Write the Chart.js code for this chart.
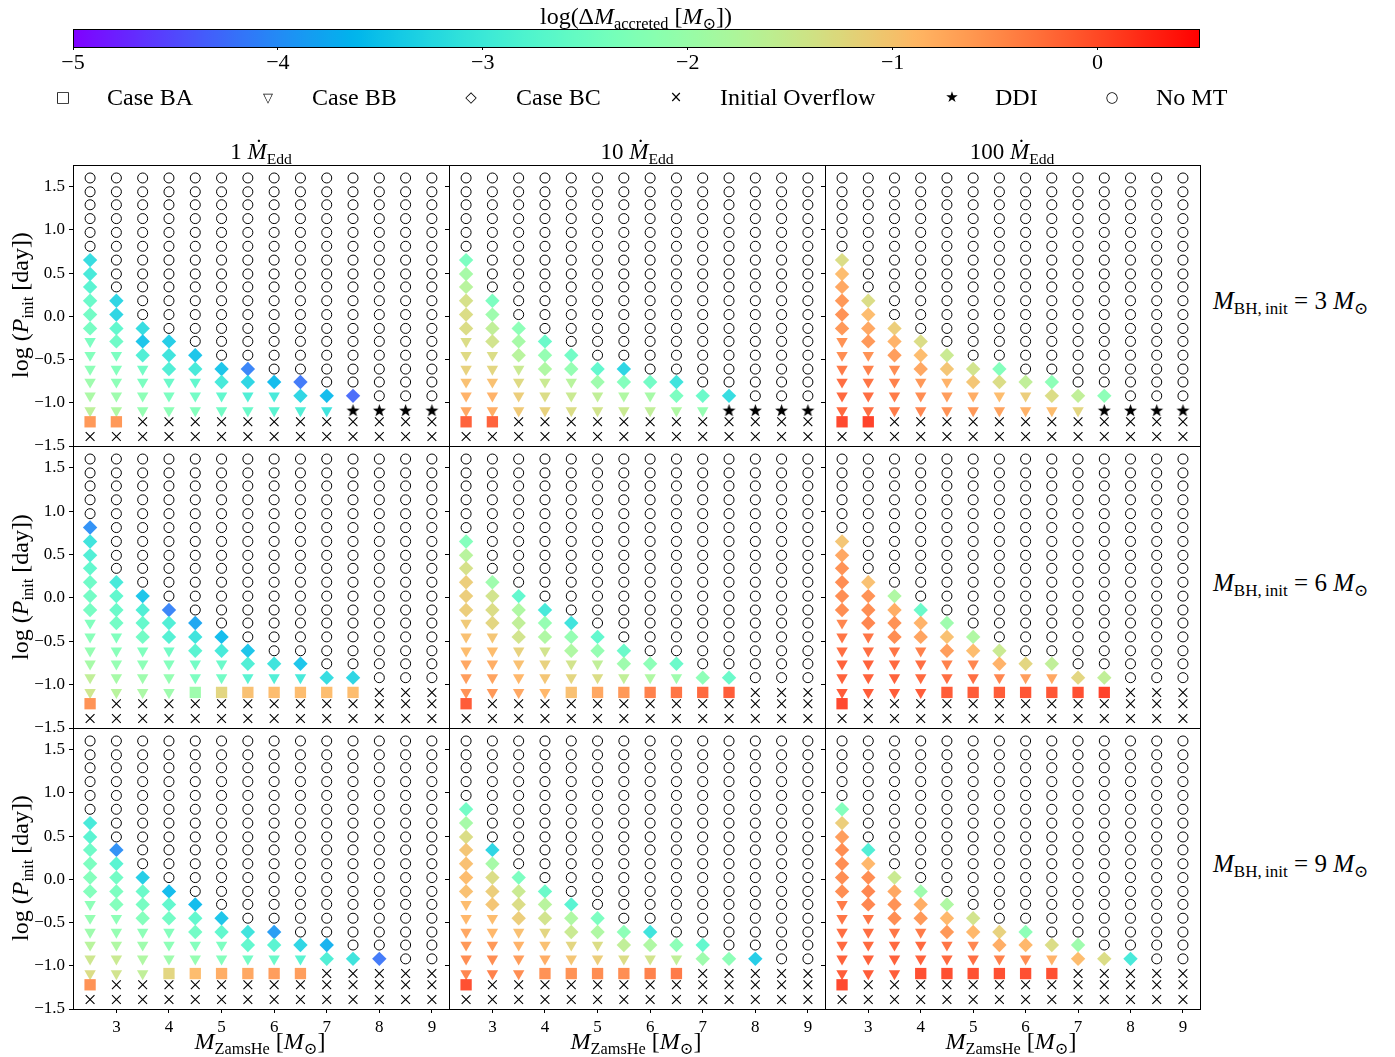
<!DOCTYPE html>
<html><head><meta charset="utf-8"><title>Accreted mass grid</title>
<script src="https://cdn.jsdelivr.net/npm/chart.js@4.4.1/dist/chart.umd.min.js"></script>
<style>
html,body{margin:0;padding:0;background:#fff}
#root{position:relative;width:1395px;height:1057px;overflow:hidden;font-family:'Liberation Serif','DejaVu Serif',serif;color:#000}
.lbl{position:absolute;white-space:nowrap;line-height:1;transform:translate(-50%,-50%)}
.lft{position:absolute;white-space:nowrap;line-height:1;transform:translate(0,-50%)}
.sub{font-size:68%;position:relative;top:0.3em}
.sym{position:absolute;transform:translate(-50%,-50%);font-family:'DejaVu Sans',sans-serif;line-height:1}
.rot{transform:translate(-50%,-50%) rotate(-90deg)}
canvas{position:absolute;display:block}
</style></head>
<body><div id="root"></div>
<script>
// ---------------- DATA ----------------
const massGrid = [2.5,3,3.5,4,4.5,5,5.5,6,6.5,7,7.5,8,8.5,9];
const logPGrid = [1.60,1.44,1.29,1.13,0.97,0.81,0.65,0.49,0.34,0.18,0.02,-0.14,-0.29,-0.45,-0.61,-0.76,-0.92,-1.09,-1.22,-1.39];
const xTickValues = [3,4,5,6,7,8,9];
const yTickValues = [-1.5,-1,-0.5,0,0.5,1,1.5];
const cbarTickValues = [-5,-4,-3,-2,-1,0];
const rateLabels = ['1','10','100'];
const bhMasses = [3,6,9];
const legendLabels = ['Case BA','Case BB','Case BC','Initial Overflow','DDI','No MT'];
const legendGlyphs = ['\u25A1','\u25BD','\u25C7','\u00D7','\u2605','\u25CB'];
// type codes per column (top row first): o=No MT, d=Case BC, t=Case BB, s=Case BA, x=Initial Overflow, k=DDI
const typesBH3_1   = ["o6d6t6s1x1","o9d4t5s1x1","o11d3t4x2","o12d3t3x2","o13d2t3x2","o14d2t2x2","o14d2t2x2","o15d1t2x2","o15d2t1x2","o16d1t1x2","o16d1k1x2","o17k1x2","o17k1x2","o17k1x2"];
const typesBH3_10  = ["o6d6t6s1x1","o9d4t5s1x1","o11d3t4x2","o12d3t3x2","o13d2t3x2","o14d2t2x2","o14d2t2x2","o15d1t2x2","o15d2t1x2","o16d1t1x2","o16d1k1x2","o17k1x2","o17k1x2","o17k1x2"];
const typesBH3_100 = ["o6d6t6s1x1","o9d4t5s1x1","o11d3t4x2","o12d3t3x2","o13d2t3x2","o14d2t2x2","o14d2t2x2","o15d1t2x2","o15d2t1x2","o16d1t1x2","o16d1k1x2","o17k1x2","o17k1x2","o17k1x2"];
const typesBH6_1   = ["o5d7t6s1x1","o9d4t5x2","o10d4t4x2","o11d3t4x2","o12d3t2s1x2","o13d2t2s1x2","o14d2t1s1x2","o15d1t1s1x2","o15d1t1s1x2","o16d1s1x2","o16d1s1x2","o17x3","o17x3","o17x3"];
const typesBH6_10  = ["o6d6t6s1x1","o9d4t5x2","o10d4t4x2","o11d3t4x2","o12d3t2s1x2","o13d2t2s1x2","o14d2t1s1x2","o15d1t1s1x2","o15d1t1s1x2","o16d1s1x2","o16d1s1x2","o17x3","o17x3","o17x3"];
const typesBH6_100 = ["o6d6t6s1x1","o9d4t5x2","o10d4t4x2","o11d3t4x2","o12d3t2s1x2","o13d2t2s1x2","o14d2t1s1x2","o15d1t1s1x2","o15d1t1s1x2","o16d1s1x2","o16d1s1x2","o17x3","o17x3","o17x3"];
const typesBH9_1   = ["o6d6t6s1x1","o8d5t5x2","o10d4t4x2","o11d3t3s1x2","o12d3t2s1x2","o13d2t2s1x2","o14d2t1s1x2","o14d2t1s1x2","o15d1t1s1x2","o15d2x3","o16d1x3","o16d1x3","o17x3","o17x3"];
const typesBH9_10  = ["o5d7t6s1x1","o8d5t5x2","o10d4t4x2","o11d3t3s1x2","o12d3t2s1x2","o13d2t2s1x2","o14d2t1s1x2","o14d2t1s1x2","o15d1t1s1x2","o15d2x3","o16d1x3","o16d1x3","o17x3","o17x3"];
const typesBH9_100 = ["o5d7t6s1x1","o8d5t5x2","o10d4t4x2","o11d3t3s1x2","o12d3t2s1x2","o13d2t2s1x2","o14d2t1s1x2","o14d2t1s1x2","o15d1t1s1x2","o15d2x3","o16d1x3","o16d1x3","o17x3","o17x3"];
// log(dM_accreted) for coloured markers, top to bottom, per column
const valsBH3_1 = [
 [-3.2,-3.0,-2.8,-2.6,-2.5,-2.45,-2.4,-2.3,-2.2,-2.0,-1.85,-1.65,-0.55],
 [-3.3,-3.3,-2.7,-2.55,-2.4,-2.3,-2.2,-2.0,-1.8,-0.55],
 [-3.2,-3.5,-2.9,-2.5,-2.4,-2.2,-2.1],
 [-3.4,-3.1,-2.9,-2.6,-2.4,-2.2],
 [-3.5,-3.0,-2.7,-2.5,-2.3],
 [-3.5,-3.0,-2.7,-2.5],
 [-4.1,-3.3,-2.9,-2.6],
 [-3.6,-3.0,-2.8],
 [-4.2,-3.3,-2.9],
 [-3.6,-3.1],
 [-4.3],[],[],[]];
const valsBH3_10 = [
 [-2.4,-1.9,-1.7,-1.35,-1.3,-1.3,-1.3,-1.25,-1.15,-0.95,-0.8,-0.7,-0.1],
 [-2.4,-2.0,-1.6,-1.4,-1.3,-1.2,-0.95,-0.8,-0.75,-0.1],
 [-2.2,-1.9,-1.7,-1.5,-1.25,-1.1,-1.05],
 [-2.6,-2.1,-1.8,-1.5,-1.3,-1.15],
 [-2.5,-2.1,-1.7,-1.5,-1.3],
 [-2.7,-2.0,-1.6,-1.4],
 [-3.3,-2.3,-1.8,-1.5],
 [-2.5,-1.9,-1.6],
 [-3.1,-2.4,-1.8],
 [-2.6,-2.1],
 [-3.2],[],[],[]];
const valsBH3_100 = [
 [-1.3,-0.9,-0.7,-0.55,-0.5,-0.55,-0.5,-0.45,-0.3,-0.2,-0.15,-0.15,0.1],
 [-1.3,-0.9,-0.7,-0.55,-0.5,-0.35,-0.25,-0.2,-0.2,0.15],
 [-1.1,-0.8,-0.6,-0.45,-0.35,-0.3,-0.3],
 [-1.3,-0.9,-0.7,-0.55,-0.45,-0.4],
 [-1.5,-1.0,-0.8,-0.6,-0.5],
 [-1.4,-1.0,-0.75,-0.55],
 [-2.3,-1.3,-0.9,-0.65],
 [-1.6,-1.1,-0.8],
 [-2.2,-1.3,-0.9],
 [-1.6,-1.2],
 [-2.2],[],[],[]];
const valsBH6_1 = [
 [-4.0,-3.1,-2.9,-2.7,-2.55,-2.5,-2.45,-2.35,-2.25,-2.1,-1.9,-1.6,-1.45,-0.5],
 [-3.0,-2.7,-2.6,-2.5,-2.35,-2.25,-2.1,-1.9,-1.7],
 [-3.5,-2.9,-2.65,-2.5,-2.35,-2.2,-2.0,-1.85],
 [-4.1,-2.9,-2.85,-2.5,-2.3,-2.1,-2.0],
 [-3.8,-3.1,-2.8,-2.5,-2.4,-2.0],
 [-3.6,-3.0,-2.6,-2.5,-1.2],
 [-3.5,-2.9,-2.8,-0.95],
 [-3.1,-2.9,-0.9],
 [-3.5,-3.0,-0.9],
 [-3.2,-0.9],
 [-3.3,-0.9],[],[],[]];
const valsBH6_10 = [
 [-2.3,-1.7,-1.35,-1.1,-1.1,-1.1,-1.05,-0.95,-0.9,-0.7,-0.6,-0.5,-0.05],
 [-2.0,-1.4,-1.3,-1.2,-1.0,-0.9,-0.75,-0.65,-0.55],
 [-2.7,-1.8,-1.6,-1.4,-1.15,-0.95,-0.85,-0.7],
 [-3.0,-2.1,-1.8,-1.4,-1.15,-1.0,-0.85],
 [-3.1,-2.1,-1.8,-1.4,-1.2,-0.95],
 [-2.7,-2.1,-1.6,-1.3,-0.7],
 [-2.6,-2.0,-1.6,-0.55],
 [-2.2,-1.8,-0.35],
 [-2.6,-2.0,-0.25],
 [-2.2,-0.15],
 [-2.6,-0.05],[],[],[]];
const valsBH6_100 = [
 [-1.0,-0.7,-0.5,-0.45,-0.45,-0.45,-0.4,-0.25,-0.2,-0.1,-0.1,-0.05,0.1],
 [-0.95,-0.5,-0.45,-0.4,-0.25,-0.2,-0.1,-0.1,-0.05],
 [-1.8,-0.75,-0.5,-0.45,-0.25,-0.15,-0.1,-0.05],
 [-2.6,-0.8,-0.65,-0.35,-0.2,-0.15,-0.05],
 [-2.0,-0.95,-0.6,-0.35,-0.2,-0.05],
 [-1.8,-0.9,-0.4,-0.2,-0.05],
 [-1.5,-0.8,-0.4,-0.05],
 [-1.2,-0.6,0.0],
 [-1.6,-0.7,0.0],
 [-1.2,0.05],
 [-1.6,0.15],[],[],[]];
const valsBH9_1 = [
 [-3.0,-2.8,-2.55,-2.4,-2.3,-2.3,-2.2,-2.1,-2.0,-1.7,-1.45,-1.3,-0.5],
 [-4.0,-2.8,-2.5,-2.4,-2.3,-2.2,-2.1,-1.8,-1.5,-1.4],
 [-3.4,-2.6,-2.45,-2.3,-2.2,-2.0,-1.8,-1.6],
 [-3.6,-2.7,-2.5,-2.3,-2.2,-2.0,-1.2],
 [-3.6,-2.7,-2.5,-2.3,-2.1,-0.9],
 [-3.5,-2.7,-2.4,-2.3,-0.75],
 [-3.1,-2.7,-2.5,-0.7],
 [-3.9,-2.8,-2.6,-0.6],
 [-3.3,-2.8,-0.6],
 [-3.7,-2.9],
 [-3.1],
 [-4.2],[],[]];
const valsBH9_10 = [
 [-2.5,-1.9,-1.3,-1.0,-0.95,-0.9,-0.95,-0.9,-0.85,-0.7,-0.55,-0.45,-0.4,0.05],
 [-3.3,-1.9,-1.3,-1.1,-1.0,-0.9,-0.85,-0.55,-0.45,-0.35],
 [-2.4,-1.5,-1.3,-1.1,-0.95,-0.8,-0.6,-0.45],
 [-2.6,-1.7,-1.4,-1.2,-0.95,-0.75,-0.5],
 [-2.8,-1.8,-1.5,-1.2,-1.0,-0.5],
 [-2.4,-1.8,-1.3,-1.1,-0.45],
 [-2.2,-1.6,-1.3,-0.45],
 [-3.1,-1.8,-1.4,-0.35],
 [-2.2,-1.6,-0.3],
 [-2.7,-2.0],
 [-2.2],
 [-3.4],[],[]];
const valsBH9_100 = [
 [-2.3,-1.1,-0.6,-0.45,-0.45,-0.45,-0.45,-0.3,-0.25,-0.2,-0.15,-0.1,-0.05,0.1],
 [-2.9,-0.85,-0.45,-0.4,-0.4,-0.25,-0.2,-0.15,-0.1,-0.05],
 [-1.5,-0.7,-0.5,-0.45,-0.25,-0.15,-0.1,-0.05],
 [-2.0,-0.75,-0.55,-0.3,-0.15,-0.1,0.05],
 [-1.8,-0.85,-0.55,-0.25,-0.15,0.05],
 [-1.4,-0.85,-0.4,-0.2,0.05],
 [-1.15,-0.75,-0.35,0.05],
 [-2.2,-0.85,-0.45,0.05],
 [-1.3,-0.8,0.05],
 [-2.0,-0.9],
 [-1.3],
 [-3.0],[],[]];

// ---------------- RENDERING ----------------
const FONT = "'Liberation Serif','DejaVu Serif',serif";
Chart.defaults.font.family = FONT;
Chart.defaults.color = '#000';
const root = document.getElementById('root');

const panelData = [
  [[typesBH3_1,valsBH3_1],[typesBH3_10,valsBH3_10],[typesBH3_100,valsBH3_100]],
  [[typesBH6_1,valsBH6_1],[typesBH6_10,valsBH6_10],[typesBH6_100,valsBH6_100]],
  [[typesBH9_1,valsBH9_1],[typesBH9_10,valsBH9_10],[typesBH9_100,valsBH9_100]]
];
const VMIN=-5, VMAX=0.5;
function rainbow(v, a){
  let x=(v-VMIN)/(VMAX-VMIN); x=Math.max(0,Math.min(1,x));
  const r=Math.min(1,Math.abs(2*x-0.5)), g=Math.sin(Math.PI*x), b=Math.cos(Math.PI*x/2);
  return 'rgba('+Math.round(r*255)+','+Math.round(g*255)+','+Math.round(b*255)+','+a+')';
}
function expand(code){ const out=[]; code.replace(/([a-z])(\d+)/g,(m,c,n)=>{for(let i=0;i<+n;i++)out.push(c);return m;}); return out; }
const fmtMinus = (s)=> s.replace('-','\u2212');

// star marker image
const starImg = document.createElement('canvas');
starImg.width=15; starImg.height=15;
(function(){const c=starImg.getContext('2d');c.fillStyle='#000';c.beginPath();
 for(let i=0;i<10;i++){const R=i%2?2.7:6.8;const a=-Math.PI/2+i*Math.PI/5;const px=7.5+R*Math.cos(a),py=7.8+R*Math.sin(a);i?c.lineTo(px,py):c.moveTo(px,py);}
 c.closePath();c.fill();})();

const markerStyles = {
  o:{pointStyle:'circle',pointRadius:5,pointBorderWidth:1,pointBorderColor:'#000',pointBackgroundColor:'rgba(0,0,0,0)'},
  x:{pointStyle:'crossRot',pointRadius:6.2,pointBorderWidth:1.1,pointBorderColor:'#000',pointBackgroundColor:'rgba(0,0,0,0)'},
  k:{pointStyle:starImg,pointRadius:7},
  d:{pointStyle:'rectRot',pointRadius:7.2,pointBorderWidth:0},
  t:{pointStyle:'triangle',pointRadius:6.6,pointRotation:180,pointBorderWidth:0},
  s:{pointStyle:'rect',pointRadius:8,pointBorderWidth:0}
};

const framePlugin = {id:'frame', afterDatasetsDraw(chart){
  const {ctx, chartArea:a}=chart; ctx.save(); ctx.strokeStyle='#000'; ctx.lineWidth=1;
  ctx.strokeRect(Math.round(a.left)+0.5, Math.round(a.top)+0.5, Math.round(a.right-a.left), Math.round(a.bottom-a.top));
  ctx.restore(); }};

const panelLeft=[73,449,825], panelWidth=[376,376,375];
const panelTop=[165,446,728], panelHeight=[281,282,281];
const PADL=62, PADT=26, PADR=12, PADB=34;

function makeCanvas(left, top, w, h){
  const cv=document.createElement('canvas'); cv.width=w; cv.height=h;
  cv.style.left=left+'px'; cv.style.top=top+'px'; cv.style.width=w+'px'; cv.style.height=h+'px';
  root.appendChild(cv); return cv;
}

for(let r=0;r<3;r++){
  for(let c=0;c<3;c++){
    const [types, vals] = panelData[r][c];
    const groups = {o:[],x:[],k:[],d:[],t:[],s:[]};
    for(let j=0;j<massGrid.length;j++){
      const col=expand(types[j]); let vi=0;
      for(let i=0;i<col.length;i++){
        const t=col[i]; const p={x:massGrid[j], y:logPGrid[i]};
        if(t==='d'||t==='t'||t==='s'){ p.v = vals[j][vi++]; }
        groups[t].push(p);
      }
    }
    const datasets=[];
    for(const t of ['o','x','k','s','t','d']){
      const ds=Object.assign({data:groups[t], showLine:false}, markerStyles[t]);
      if(t==='d'||t==='t'||t==='s'){ ds.pointBackgroundColor = groups[t].map(p=>rainbow(p.v,0.92)); }
      datasets.push(ds);
    }
    const W=panelWidth[c]+PADL+PADR, H=panelHeight[r]+PADT+PADB;
    const cv=makeCanvas(panelLeft[c]-PADL, panelTop[r]-PADT, W, H);
    new Chart(cv,{type:'scatter',data:{datasets},
      options:{responsive:false,animation:false,devicePixelRatio:1,events:[],
        layout:{padding:{top:PADT,right:PADR,left:0,bottom:0}},
        plugins:{legend:{display:false},tooltip:{enabled:false}},
        scales:{
          x:{type:'linear',min:2.175,max:9.325,
             afterBuildTicks:s=>{s.ticks=xTickValues.map(v=>({value:v}));},
             afterFit:s=>{s.height=PADB;},
             border:{display:false},
             grid:{display:r===2,drawOnChartArea:false,drawTicks:true,tickLength:4,color:'#000',lineWidth:1},
             ticks:{display:r===2,autoSkip:false,maxRotation:0,padding:4,color:'#000',font:{family:FONT,size:17},callback:v=>String(v)}},
          y:{type:'linear',min:-1.5,max:1.75,
             afterBuildTicks:s=>{s.ticks=yTickValues.map(v=>({value:v}));},
             afterFit:s=>{s.width=PADL;},
             border:{display:false},
             grid:{display:true,drawOnChartArea:false,drawTicks:true,tickLength:4,color:'#000',lineWidth:1},
             ticks:{display:c===0,autoSkip:false,padding:4,color:'#000',font:{family:FONT,size:17},callback:v=>fmtMinus(Number(v).toFixed(1))}}
        }},
      plugins:[framePlugin]});
  }
}

// ---------------- COLORBAR ----------------
const gradPlugin={id:'grad', beforeDatasetsDraw(chart){
  const {ctx, chartArea:a}=chart;
  const g=ctx.createLinearGradient(a.left,0,a.right,0);
  for(let k=0;k<=110;k++){const v=VMIN+(VMAX-VMIN)*k/110; g.addColorStop(k/110, rainbow(v,1));}
  ctx.save(); ctx.fillStyle=g; ctx.fillRect(a.left,a.top,a.right-a.left,a.bottom-a.top);
  ctx.strokeStyle='#000'; ctx.lineWidth=1;
  ctx.strokeRect(Math.round(a.left)+0.5,Math.round(a.top)+0.5,Math.round(a.right-a.left)-1,Math.round(a.bottom-a.top));
  ctx.restore(); }};
const CBL=20, cbW=1200-73+2*CBL, cbH=62;
const cbc=makeCanvas(73-CBL, 29, cbW, cbH);
new Chart(cbc,{type:'scatter',data:{datasets:[]},
  options:{responsive:false,animation:false,devicePixelRatio:1,events:[],
    layout:{padding:{left:CBL,right:CBL,top:0,bottom:0}},
    plugins:{legend:{display:false},tooltip:{enabled:false}},
    scales:{
      x:{type:'linear',min:VMIN,max:VMAX,
         afterBuildTicks:s=>{s.ticks=cbarTickValues.map(v=>({value:v}));},
         afterFit:s=>{s.height=cbH-18;},
         border:{display:false},
         grid:{drawOnChartArea:false,drawTicks:true,tickLength:3,color:'#000'},
         ticks:{autoSkip:false,maxRotation:0,padding:0,color:'#000',font:{family:FONT,size:22},callback:v=>fmtMinus(String(v))}},
      y:{display:false,min:0,max:1}
    }},
  plugins:[gradPlugin]});

// ---------------- TEXT ----------------
function addDiv(cls, left, top, html, size){
  const d=document.createElement('div'); d.className=cls; d.style.left=left+'px'; d.style.top=top+'px';
  d.style.fontSize=size+'px'; d.innerHTML=html; root.appendChild(d); return d;
}
const Msun='<i>M</i><span class="sub">\u2299</span>';
addDiv('lbl',636,16,'log(\u0394<i>M</i><span class="sub">accreted</span> ['+Msun+'])',24);
const symX=[63,268,471,676,952,1112], txtX=[107,312,516,720,995,1156];
const symSize=[15,13,15,15,15,15];
for(let i=0;i<legendLabels.length;i++){
  addDiv('sym',symX[i],97,legendGlyphs[i],symSize[i]);
  addDiv('lft',txtX[i],97,legendLabels[i],24);
}
const colCenters=[261,637,1012];
for(let c=0;c<3;c++){
  addDiv('lbl',colCenters[c],151,rateLabels[c]+' <i>\u1E40</i><span class="sub">Edd</span>',23);
  addDiv('lbl',colCenters[c]-1,1041,'<i>M</i><span class="sub">ZamsHe</span> ['+Msun+']',24);
}
const rowCenters=[305,587,868];
for(let r=0;r<3;r++){
  addDiv('lbl rot',20,rowCenters[r],'log (<i>P</i><span class="sub">init</span> [day])',24);
  addDiv('lft',1213,rowCenters[r]-5,'<i>M</i><span class="sub">BH,\u2009init</span> = '+bhMasses[r]+' '+Msun,25);
}
</script>
</body></html>
